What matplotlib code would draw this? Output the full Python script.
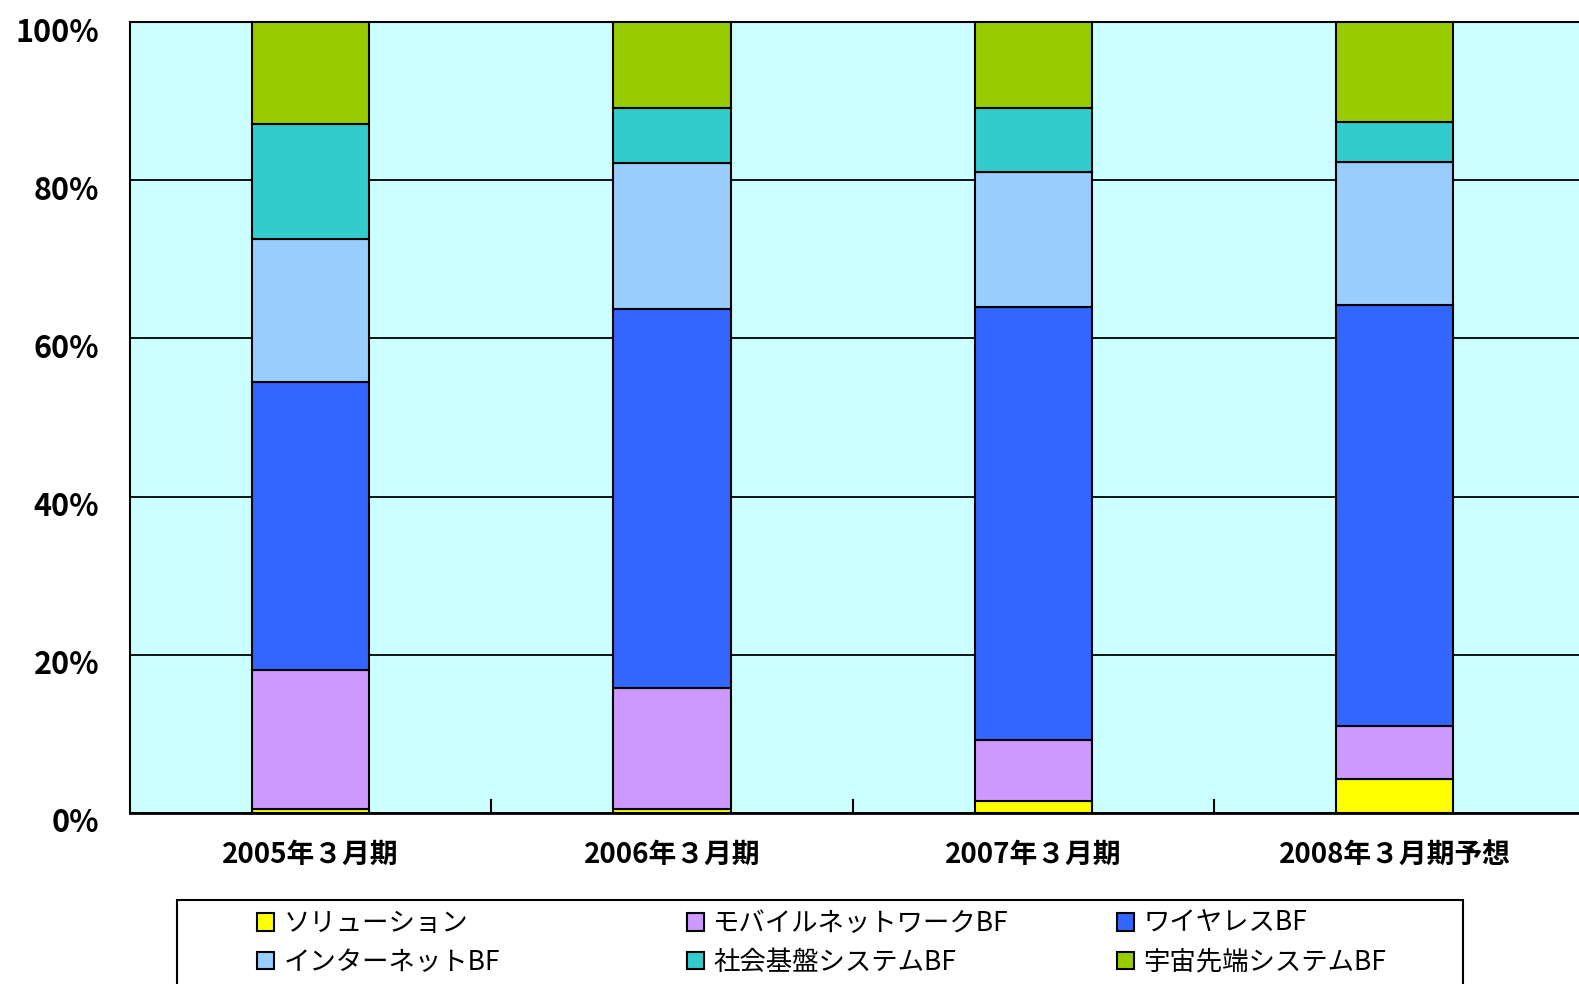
import matplotlib
matplotlib.use("Agg")
import matplotlib.pyplot as plt
from matplotlib.patches import Patch, Rectangle
from matplotlib.ticker import FuncFormatter, FixedLocator
from matplotlib.transforms import ScaledTranslation
import numpy as np

plt.rcParams['font.family'] = ['Noto Sans CJK JP', 'DejaVu Sans']

categories = ["2005年３月期", "2006年３月期", "2007年３月期", "2008年３月期予想"]
series_names = ["ソリューション", "モバイルネットワークBF", "ワイヤレスBF",
                "インターネットBF", "社会基盤システムBF", "宇宙先端システムBF"]
solution = [0.5, 0.5, 1.5, 4.3]
mobile = [17.6, 15.3, 7.7, 6.7]
wireless = [36.4, 47.9, 54.8, 53.2]
internet = [18.1, 18.5, 17.0, 18.1]
social = [14.5, 6.9, 8.1, 5.1]
space = [12.9, 10.9, 10.9, 12.6]
colors = ["#FFFF00", "#CC99FF", "#3366FF", "#99CCFF", "#33CCCC", "#99CC00"]
yticks = [0, 20, 40, 60, 80, 100]

series = [solution, mobile, wireless, internet, social, space]

fig = plt.figure(figsize=(15.79, 9.84), dpi=100)
ax = fig.add_axes([130/1579, 1-813/984, (1579-130)/1579, (813-22)/984])
ax.set_facecolor("#CCFFFF")

x = np.arange(len(categories))
bottom = np.zeros(len(categories))
for vals, col in zip(series, colors):
    ax.bar(x, vals, width=0.325, bottom=bottom, color=col, edgecolor="black",
           linewidth=1.5, zorder=3)
    bottom += np.array(vals)

ax.set_ylim(0, 100)
ax.set_xlim(-0.5, -0.5 + 1449/361.3)
ax.yaxis.set_major_locator(FixedLocator(yticks))
ax.yaxis.set_major_formatter(FuncFormatter(lambda v, p: f"{int(v)}%"))
ax.grid(axis='y', color='black', linewidth=1.3, zorder=1)
ax.set_axisbelow(True)

ax.set_xticks(x)
ax.set_xticklabels(categories, fontsize=20, fontweight='bold')
ax.tick_params(axis='x', which='major', length=0, pad=20)
ax.set_xticks(np.arange(0.5, len(categories) - 0.5, 1.0), minor=True)
ax.tick_params(axis='x', which='minor', direction='in', length=10, width=1.5, color='black')
ax.tick_params(axis='y', length=0, pad=22, labelsize=22)
shift = ScaledTranslation(0, -7/100, fig.dpi_scale_trans)
for lab in ax.get_yticklabels():
    lab.set_fontweight('bold')
    lab.set_transform(lab.get_transform() + shift)

ax.spines['right'].set_visible(False)
ax.spines['left'].set_linewidth(1.5)
ax.spines['bottom'].set_linewidth(2)
ax.spines['top'].set_linewidth(1.5)

# legend frame
fig.patches.append(Rectangle((177/1579, -0.05), (1463-177)/1579, 0.05 + (984-900)/984,
                             transform=fig.transFigure, facecolor='white',
                             edgecolor='black', linewidth=1.5, zorder=0))
handles = [Patch(facecolor=c, edgecolor='black', linewidth=1.5) for c in colors]
col_x = [257, 687, 1117]
for ci, cx in enumerate(col_x):
    idx = [ci, ci + 3]
    fig.legend([handles[i] for i in idx], [series_names[i] for i in idx],
               ncol=1, loc='upper left', bbox_to_anchor=(cx/1579, 1-910/984),
               frameon=False, fontsize=19, handlelength=0.65, handleheight=0.65,
               handletextpad=0.35, labelspacing=0.45, borderpad=0, borderaxespad=0)

fig.savefig("out.png", dpi=100)
